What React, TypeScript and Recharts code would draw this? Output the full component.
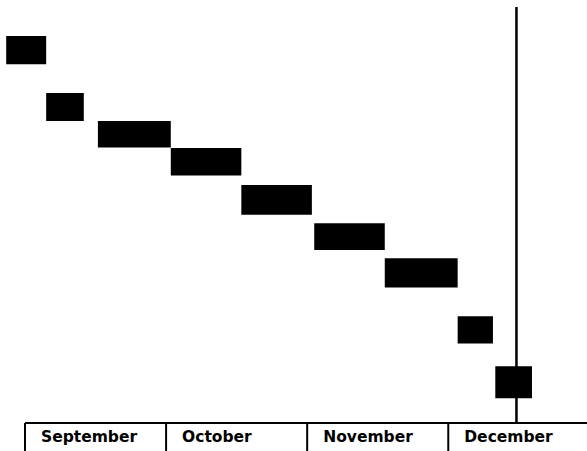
import React from 'react';
import { ComposedChart, XAxis, YAxis, ReferenceArea, ReferenceLine } from 'recharts';

// Time axis in days from September 1 (each month drawn as 30 days)
const monthLabels = ['September', 'October', 'November', 'December'];
const monthStarts = [0, 30, 60, 90];

// Tasks: start / end (days), lane top / bottom (lane units)
const taskStart = [-4, 4.5, 15.5, 31, 46, 61.5, 76.5, 92, 100];
const taskEnd = [4.5, 12.5, 31, 46, 61, 76.5, 92, 99.5, 107.8];
const laneTop = [1.05, 3.1, 4.11, 5.08, 6.42, 7.8, 9.06, 11.15, 12.95];
const laneBottom = [2.06, 4.11, 5.07, 6.08, 7.49, 8.76, 10.11, 12.13, 14.11];

const todayMark = 104.5;

const data = taskStart.map((s, i) => ({ x: s, y: laneTop[i] }));

const MonthTick = (props: any) => {
  const { x, y, payload } = props;
  const idx = monthStarts.indexOf(payload.value);
  const label = idx >= 0 ? monthLabels[idx] : '';
  return (
    <text
      x={x + 16}
      y={y - 28 + 19}
      fill="#000"
      fontFamily="'DejaVu Sans', sans-serif"
      fontWeight="bold"
      fontSize={15.5}
      textAnchor="start"
    >
      {label}
    </text>
  );
};

export default function App() {
  return (
    <div style={{ position: 'absolute', left: 0, top: 0, width: 587, height: 451, background: '#fff' }}>
      <ComposedChart
        width={587}
        height={451}
        data={data}
        margin={{ top: 7, right: 0, bottom: 0, left: 25 }}
      >
        <XAxis
          type="number"
          dataKey="x"
          domain={[0, 119.5]}
          allowDataOverflow
          ticks={monthStarts}
          interval={0}
          height={28}
          tickSize={28}
          tickMargin={0}
          axisLine={{ stroke: '#000', strokeWidth: 2 }}
          tickLine={{ stroke: '#000', strokeWidth: 2 }}
          tick={<MonthTick />}
        />
        <YAxis type="number" dataKey="y" domain={[0, 15]} reversed allowDataOverflow hide width={0} />
        {taskStart.map((s, i) => (
          <ReferenceArea
            key={i}
            x1={s}
            x2={taskEnd[i]}
            y1={laneTop[i]}
            y2={laneBottom[i]}
            fill="#000"
            fillOpacity={1}
            stroke="none"
            ifOverflow="visible"
          />
        ))}
        <ReferenceLine x={todayMark} stroke="#000" strokeWidth={2.5} ifOverflow="visible" />
      </ComposedChart>
    </div>
  );
}
